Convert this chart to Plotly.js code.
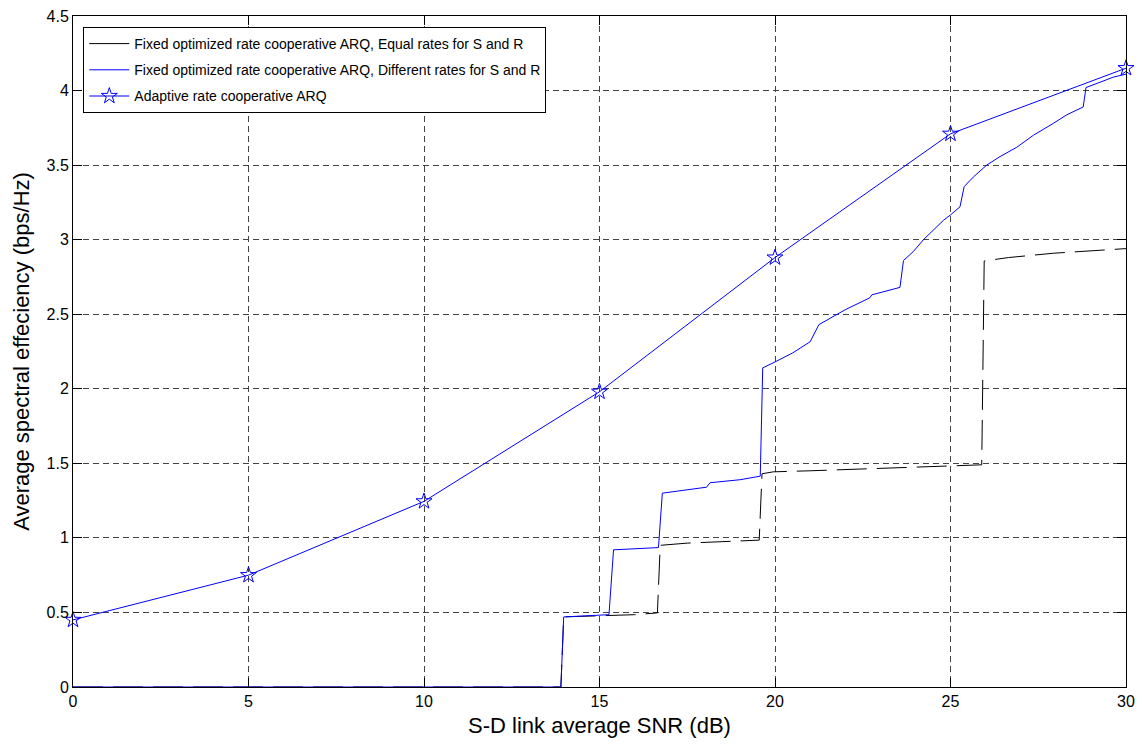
<!DOCTYPE html>
<html>
<head>
<meta charset="utf-8">
<script src="https://cdn.plot.ly/plotly-3.0.1.min.js"></script>
<style>html,body{margin:0;padding:0;background:#fff;}#chart{width:1143px;height:745px;}</style>
</head>
<body>
<div id="chart"></div>
<script>
// Fixed optimized rate, equal rates for S and R
const eqX = [0, 13.9, 13.98, 15.3, 16.0, 16.65, 16.73, 17.5, 18.9, 19.55, 19.63, 19.95, 21.0, 22.14, 23.5, 25.0, 25.89, 25.96, 26.65, 27.93, 29.69, 30];
const eqY = [0, 0, 0.47, 0.48, 0.485, 0.497, 0.95, 0.965, 0.978, 0.985, 1.43, 1.443, 1.45, 1.459, 1.47, 1.483, 1.49, 2.857, 2.88, 2.909, 2.937, 2.94];

// Fixed optimized rate, different rates for S and R
const diffX = [0, 13.9, 13.98, 15.27, 15.4, 16.68, 16.79, 17.5, 18.05, 18.15, 19.0, 19.58, 19.65, 20.0, 20.5, 21.0, 21.16, 21.25, 22.0, 22.7, 22.76, 23.56, 23.66, 23.94, 24.23, 24.51, 24.8, 25.0, 25.27, 25.39, 25.65, 26.03, 26.41, 26.89, 27.36, 27.93, 28.31, 28.78, 28.86, 29.64, 30];
const diffY = [0, 0, 0.47, 0.485, 0.92, 0.935, 1.30, 1.325, 1.34, 1.37, 1.39, 1.414, 2.14, 2.18, 2.24, 2.315, 2.39, 2.43, 2.53, 2.61, 2.63, 2.68, 2.86, 2.92, 3.0, 3.065, 3.13, 3.166, 3.22, 3.356, 3.42, 3.50, 3.557, 3.62, 3.70, 3.78, 3.837, 3.89, 4.02, 4.09, 4.11];

// Adaptive rate cooperative ARQ
const adX = [0, 5, 10, 15, 20, 25, 30];
const adY = [0.45, 0.75, 1.245, 1.98, 2.88, 3.71, 4.15];

const names = [
  'Fixed optimized rate cooperative ARQ, Equal rates for S and R',
  'Fixed optimized rate cooperative ARQ, Different rates for S and R',
  'Adaptive rate cooperative ARQ'
];

const traces = [
  {x: eqX, y: eqY, type: 'scatter', mode: 'lines', showlegend: false,
   line: {color: '#000000', width: 1, dash: '30px,10px'}, hoverinfo: 'skip'},
  {x: [null], y: [null], type: 'scatter', mode: 'lines', name: names[0], legendgroup: 'a',
   line: {color: '#000000', width: 1}},
  {x: diffX, y: diffY, type: 'scatter', mode: 'lines', name: names[1], legendgroup: 'b',
   line: {color: '#0000FF', width: 1}},
  {x: adX, y: adY, type: 'scatter', mode: 'lines+markers', name: names[2], legendgroup: 'c',
   cliponaxis: false,
   line: {color: '#0000FF', width: 1},
   marker: {symbol: 'star-open', size: 12, color: '#0000FF', line: {width: 1, color: '#0000FF'}}}
];

const axisCommon = {
  showline: true, linecolor: '#000', linewidth: 1, mirror: 'ticks',
  ticks: 'inside', ticklen: 9, tickcolor: '#000', tickwidth: 1,
  showgrid: true, gridcolor: '#444', gridwidth: 1, griddash: '6px,4px',
  zeroline: false, tickfont: {family: 'Arial, Liberation Sans, sans-serif', size: 16, color: '#000'}
};

const layout = {
  width: 1143, height: 745,
  margin: {l: 73, r: 17, t: 16, b: 58},
  paper_bgcolor: '#fff', plot_bgcolor: '#fff',
  font: {family: 'Arial, Liberation Sans, sans-serif', color: '#000'},
  xaxis: Object.assign({}, axisCommon, {
    range: [0, 30], dtick: 5, tick0: 0,
    title: {text: 'S-D link average SNR (dB)', font: {size: 22, color: '#000'}, standoff: 8}
  }),
  yaxis: Object.assign({}, axisCommon, {
    range: [0, 4.5], dtick: 0.5, tick0: 0,
    title: {text: 'Average spectral effeciency (bps/Hz)', font: {size: 22, color: '#000'}, standoff: 10}
  }),
  legend: {
    x: 0.0098, y: 0.9836, xanchor: 'left', yanchor: 'top',
    bgcolor: '#fff', bordercolor: '#000', borderwidth: 1,
    font: {size: 14, color: '#000'}, traceorder: 'grouped', tracegroupgap: 5,
    itemwidth: 40
  },
  showlegend: true
};

Plotly.newPlot('chart', traces, layout, {displayModeBar: false, staticPlot: true});
</script>
</body>
</html>
